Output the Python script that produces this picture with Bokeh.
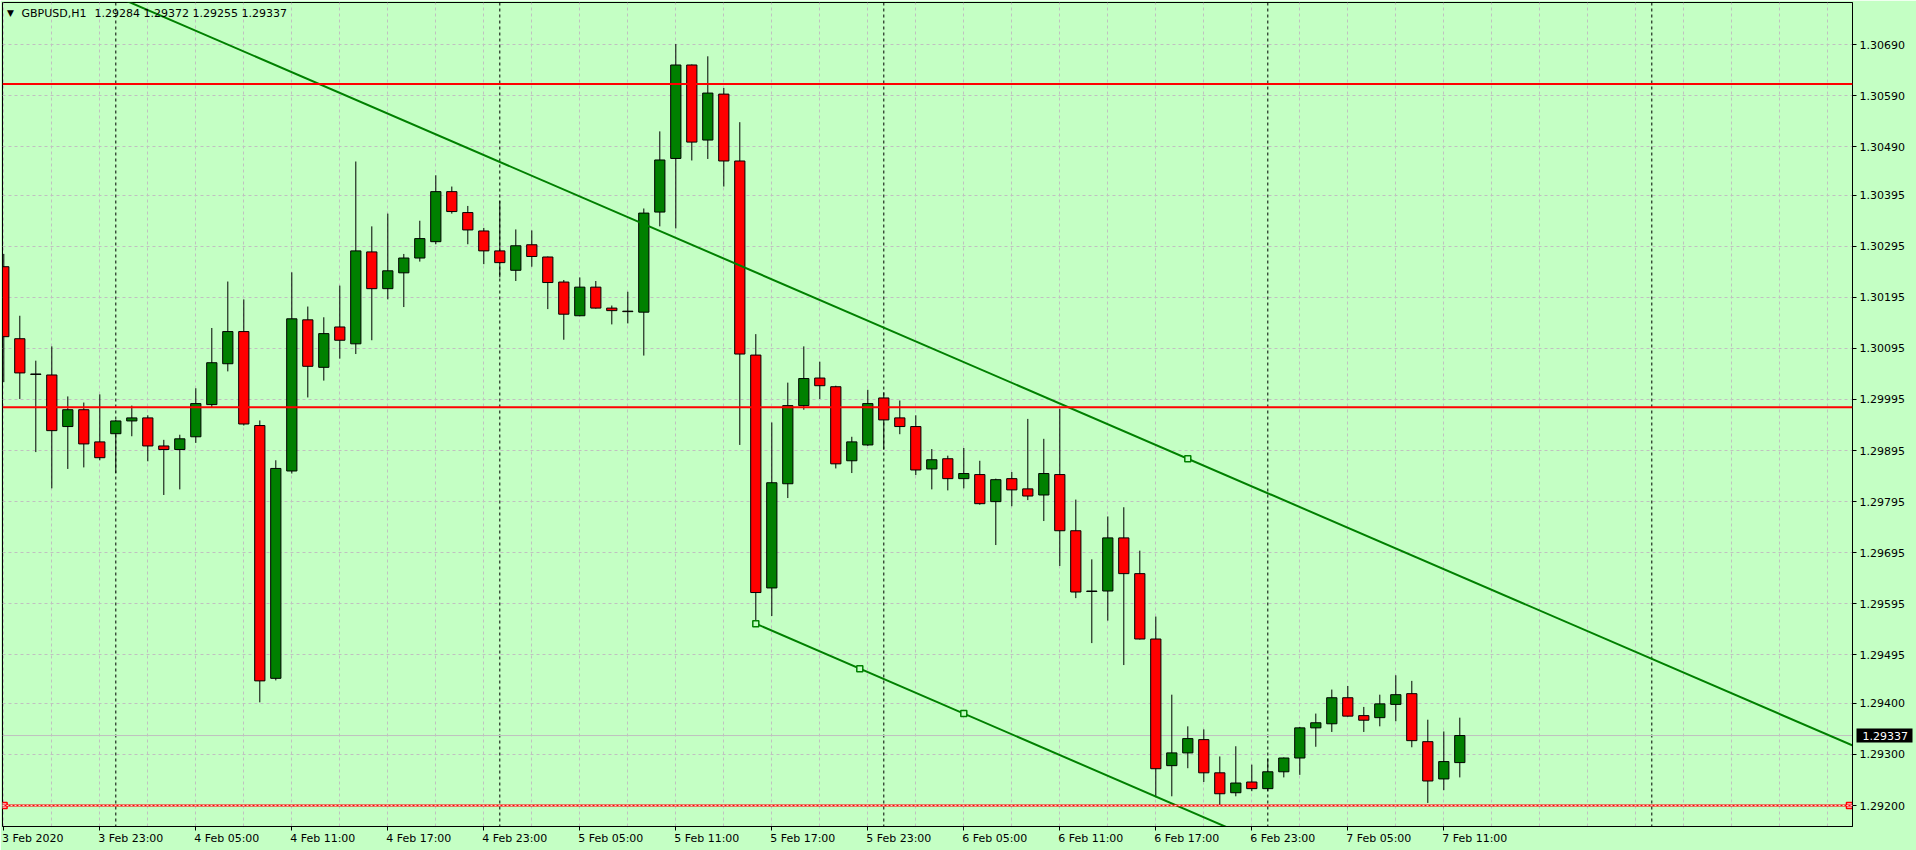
import numpy as np
from bokeh.plotting import figure
from bokeh.models import (FixedTicker, PrintfTickFormatter, Span, Label, ColumnDataSource,
                          LinearAxis)
from bokeh.embed import file_html
from bokeh.resources import INLINE

# ---------------- data (GBPUSD, H1, first bar = 3 Feb 2020 17:00) ----------------
open_ = [1.30255, 1.30114, 1.30045, 1.30043, 1.29942, 1.29975, 1.29912, 1.29928, 1.29953, 1.29959,
         1.29904, 1.29897, 1.29922, 1.29985, 1.30065, 1.30128, 1.29944, 1.29449, 1.29855, 1.30151,
         1.30058, 1.30137, 1.30104, 1.30284, 1.30212, 1.30243, 1.30272, 1.30304, 1.30402, 1.30361,
         1.30325, 1.30286, 1.30248, 1.30298, 1.30274, 1.30225, 1.30159, 1.30215, 1.30174, 1.30168,
         1.30166, 1.30362, 1.30467, 1.30650, 1.30503, 1.30593, 1.30462, 1.30082, 1.29626, 1.29830,
         1.29983, 1.30037, 1.30020, 1.29875, 1.29906, 1.29998, 1.29959, 1.29942, 1.29859, 1.29879,
         1.29840, 1.29848, 1.29795, 1.29840, 1.29820, 1.29808, 1.29848, 1.29738, 1.29620, 1.29620,
         1.29724, 1.29654, 1.29526, 1.29278, 1.29303, 1.29329, 1.29264, 1.29225, 1.29246, 1.29233,
         1.29266, 1.29293, 1.29352, 1.29360, 1.29411, 1.29376, 1.29372, 1.29398, 1.29419, 1.29325,
         1.29252, 1.29284]
high = [1.30280, 1.30159, 1.30071, 1.30099, 1.30001, 1.29989, 1.30005, 1.29955, 1.29983, 1.29964,
        1.29916, 1.29926, 1.30017, 1.30135, 1.30226, 1.30191, 1.29954, 1.29876, 1.30244, 1.30177,
        1.30156, 1.30218, 1.30461, 1.30334, 1.30359, 1.30280, 1.30345, 1.30434, 1.30412, 1.30374,
        1.30331, 1.30384, 1.30328, 1.30326, 1.30275, 1.30229, 1.30234, 1.30227, 1.30179, 1.30206,
        1.30369, 1.30520, 1.30691, 1.30651, 1.30667, 1.30605, 1.30538, 1.30123, 1.29950, 1.30028,
        1.30099, 1.30069, 1.30022, 1.29922, 1.30014, 1.30009, 1.29993, 1.29964, 1.29898, 1.29885,
        1.29900, 1.29875, 1.29840, 1.29853, 1.29957, 1.29918, 1.29977, 1.29799, 1.29682, 1.29766,
        1.29784, 1.29699, 1.29570, 1.29417, 1.29355, 1.29349, 1.29296, 1.29316, 1.29280, 1.29292,
        1.29294, 1.29354, 1.29380, 1.29427, 1.29434, 1.29393, 1.29417, 1.29455, 1.29444, 1.29368,
        1.29345, 1.29372]
low = [1.30029, 1.29996, 1.29892, 1.29821, 1.29859, 1.29862, 1.29876, 1.29851, 1.29923, 1.29874,
       1.29808, 1.29819, 1.29910, 1.29979, 1.30050, 1.29944, 1.29402, 1.29445, 1.29850, 1.29999,
       1.30032, 1.30075, 1.30084, 1.30111, 1.30191, 1.30176, 1.30265, 1.30299, 1.30359, 1.30299,
       1.30260, 1.30234, 1.30227, 1.30255, 1.30172, 1.30112, 1.30158, 1.30173, 1.30142, 1.30144,
       1.30081, 1.30334, 1.30330, 1.30463, 1.30466, 1.30412, 1.29906, 1.29562, 1.29571, 1.29802,
       1.29975, 1.29996, 1.29860, 1.29851, 1.29904, 1.29897, 1.29927, 1.29847, 1.29819, 1.29817,
       1.29821, 1.29789, 1.29710, 1.29786, 1.29798, 1.29757, 1.29669, 1.29606, 1.29518, 1.29562,
       1.29475, 1.29525, 1.29216, 1.29218, 1.29273, 1.29246, 1.29201, 1.29218, 1.29228, 1.29228,
       1.29255, 1.29260, 1.29315, 1.29344, 1.29374, 1.29344, 1.29355, 1.29365, 1.29314, 1.29205,
       1.29230, 1.29255]
close = [1.30118, 1.30047, 1.30044, 1.29934, 1.29975, 1.29908, 1.29881, 1.29953, 1.29959, 1.29904,
         1.29897, 1.29918, 1.29987, 1.30067, 1.30128, 1.29947, 1.29444, 1.29860, 1.30153, 1.30060,
         1.30124, 1.30111, 1.30286, 1.30212, 1.30247, 1.30272, 1.30310, 1.30402, 1.30363, 1.30327,
         1.30286, 1.30263, 1.30296, 1.30275, 1.30224, 1.30162, 1.30215, 1.30174, 1.30169, 1.30167,
         1.30360, 1.30464, 1.30650, 1.30499, 1.30595, 1.30462, 1.30084, 1.29617, 1.29832, 1.29983,
         1.30036, 1.30022, 1.29869, 1.29912, 1.29987, 1.29955, 1.29942, 1.29857, 1.29877, 1.29840,
         1.29850, 1.29791, 1.29838, 1.29818, 1.29806, 1.29850, 1.29738, 1.29618, 1.29619, 1.29724,
         1.29654, 1.29526, 1.29272, 1.29303, 1.29331, 1.29264, 1.29223, 1.29244, 1.29233, 1.29266,
         1.29293, 1.29352, 1.29362, 1.29411, 1.29375, 1.29367, 1.29399, 1.29417, 1.29327, 1.29248,
         1.29286, 1.29337]

x_label_idx = [0, 6, 12, 18, 24, 30, 36, 42, 48, 54, 60, 66, 72, 78, 84, 90]
x_labels = ["3 Feb 2020", "3 Feb 23:00", "4 Feb 05:00", "4 Feb 11:00", "4 Feb 17:00",
            "4 Feb 23:00", "5 Feb 05:00", "5 Feb 11:00", "5 Feb 17:00", "5 Feb 23:00",
            "6 Feb 05:00", "6 Feb 11:00", "6 Feb 17:00", "6 Feb 23:00", "7 Feb 05:00",
            "7 Feb 11:00"]
y_ticks = [1.29200, 1.29300, 1.29400, 1.29495, 1.29595, 1.29695, 1.29795, 1.29895, 1.29995,
           1.30095, 1.30195, 1.30295, 1.30395, 1.30490, 1.30590, 1.30690]
day_sep_idx = [7, 31, 55, 79, 103]
h_levels = [1.30613, 1.29980, 1.29200]
last_price = 1.29337
upper_trend_idx = [8, 74]
upper_trend_px = [1.30771, 1.29879]
lower_trend_idx = [47, 60]
lower_trend_px = [1.29556, 1.29380]
lower_marker_idx = [47, 53.5, 60]
title_symbol = "GBPUSD,H1"
title_ohlc = "1.29284 1.29372 1.29255 1.29337"

# ---------------- styling ----------------
BG = "#c4ffc4"
GREEN = "#008000"
GRID = "#c0c0c0"
FONT = "DejaVu Sans"
W, H = 1916, 850
LEFT, TOP, RIGHT, BOTTOM = 2, 2, 64, 24
PX_PER_BAR = 16
PX_PER_PRICE = 51070.0
frame_w = W - LEFT - RIGHT
frame_h = H - TOP - BOTTOM
x_lo = -0.08125
x_hi = x_lo + frame_w / PX_PER_BAR
y_lo = 1.2915888
y_hi = y_lo + frame_h / PX_PER_PRICE

p = figure(width=W, height=H, x_range=(x_lo, x_hi), y_range=(y_lo, y_hi),
           output_backend="svg", toolbar_location=None, y_axis_location="right",
           min_border_left=LEFT, min_border_top=TOP, min_border_right=RIGHT,
           min_border_bottom=BOTTOM, background_fill_color=BG, border_fill_color=BG,
           outline_line_color="black", outline_line_width=1)

# grids
p.ygrid.ticker = FixedTicker(ticks=y_ticks)
p.xgrid.ticker = FixedTicker(ticks=list(range(0, int(x_hi) + 1, 3)))
for g in (p.xgrid, p.ygrid):
    g.grid_line_color = GRID
    g.grid_line_dash = "3 3"
    g.grid_line_width = 1

# y axis (right)
TICK_OUT, STANDOFF = 4, 3
ya = p.yaxis[0]
ya.ticker = FixedTicker(ticks=y_ticks)
ya.formatter = PrintfTickFormatter(format="%.5f")
ya.major_tick_out = TICK_OUT
ya.major_tick_in = 0
ya.minor_tick_out = 0
ya.major_label_standoff = STANDOFF
ya.axis_line_color = "black"
ya.major_tick_line_color = "black"
ya.major_label_text_font = FONT
ya.major_label_text_font_size = "11px"
ya.major_label_text_color = "black"

# current price box: a second, zero-width axis stacked after the price scale whose single
# tick reaches back to the frame as a thick black bar under its white label
price_axis = LinearAxis(ticker=FixedTicker(ticks=[last_price]),
                        formatter=PrintfTickFormatter(format="%.5f"),
                        axis_line_color=None, minor_tick_out=0, minor_tick_in=0,
                        major_tick_in=51, major_tick_out=5,
                        major_tick_line_width=14, major_tick_line_color="black",
                        major_label_standoff=-50,
                        major_label_text_font=FONT, major_label_text_font_size="11px",
                        major_label_text_color="white")
p.add_layout(price_axis, "right")

# x axis: labels start at their tick, as in the terminal
CW = {c: 0.636 for c in "0123456789"}
CW.update({" ": 0.318, "F": 0.575, "e": 0.615, "b": 0.635, ":": 0.337})


def text_px(s, size=11):
    return sum(CW.get(c, 0.6) for c in s) * size


centers = [i + (round(text_px(s) / 2) - 2) / PX_PER_BAR for i, s in zip(x_label_idx, x_labels)]
xa = p.xaxis[0]
xa.ticker = FixedTicker(ticks=centers, minor_ticks=x_label_idx)
xa.major_label_overrides = {c: s for c, s in zip(centers, x_labels)}
xa.major_tick_out = 0
xa.major_tick_in = 0
xa.minor_tick_out = 4
xa.minor_tick_in = 0
xa.minor_tick_line_color = "black"
xa.major_label_standoff = 1
xa.axis_line_color = "black"
xa.major_label_text_font = FONT
xa.major_label_text_font_size = "11px"
xa.major_label_text_color = "black"

# period separators and current price line (behind the candles)
for d in day_sep_idx:
    p.add_layout(Span(location=d, dimension="height", line_color="black",
                      line_dash="3 3", line_width=1, level="underlay"))
p.add_layout(Span(location=last_price, dimension="width", line_color=GRID,
                  line_width=1, level="underlay"))

# candles
idx = np.arange(len(open_))
o = np.array(open_)
c = np.array(close)
src = ColumnDataSource(dict(
    x=idx, high=high, low=low,
    top=np.maximum(o, c), bottom=np.minimum(o, c),
    color=np.where(c > o, GREEN, "#ff0000"),
))
p.segment(x0="x", y0="high", x1="x", y1="low", source=src, line_color="black", line_width=1)
p.vbar(x="x", width=0.64, top="top", bottom="bottom", fill_color="color",
       line_color="black", line_width=1, source=src)

# horizontal levels
for lv in h_levels:
    p.add_layout(Span(location=lv, dimension="width", line_color="#ff0000", line_width=2))
p.add_layout(Span(location=h_levels[-1], dimension="width", line_color="#ffd0d0",
                  line_width=1, line_dash="2 2"))
p.scatter(x=[x_lo + 0.1, x_hi - 0.19], y=[h_levels[-1]] * 2, marker="square", size=6,
          fill_color="#ffd0d0", line_color="#ff0000", line_width=1.5)


# trend lines
def trend(ix, px, xs):
    slope = (px[1] - px[0]) / (ix[1] - ix[0])
    return [px[0] + slope * (x - ix[0]) for x in xs]


xs_up = [x_lo - 1, x_hi + 1]
p.line(xs_up, trend(upper_trend_idx, upper_trend_px, xs_up), line_color=GREEN, line_width=2)
xs_lo = [lower_trend_idx[0], x_hi + 1]
p.line(xs_lo, trend(lower_trend_idx, lower_trend_px, xs_lo), line_color=GREEN, line_width=2)
p.scatter(x=[upper_trend_idx[1]], y=trend(upper_trend_idx, upper_trend_px, [upper_trend_idx[1]]),
          marker="square", size=6, fill_color=BG, line_color=GREEN, line_width=1.5)
p.scatter(x=lower_marker_idx, y=trend(lower_trend_idx, lower_trend_px, lower_marker_idx),
          marker="square", size=6, fill_color=BG, line_color=GREEN, line_width=1.5)

# title inside the chart
p.add_layout(Label(x=4.5, y=frame_h - 5, x_units="screen", y_units="screen", text="\u25bc",
                   text_font=FONT, text_font_size="9px", text_color="black",
                   text_baseline="top"))
p.add_layout(Label(x=19, y=frame_h - 4, x_units="screen", y_units="screen", text=title_symbol,
                   text_font=FONT, text_font_size="11px", text_color="black",
                   text_baseline="top"))
p.add_layout(Label(x=92, y=frame_h - 4, x_units="screen", y_units="screen", text=title_ohlc,
                   text_font=FONT, text_font_size="11px", text_color="black",
                   text_baseline="top"))

open("out.html", "w").write(file_html(p, INLINE))
